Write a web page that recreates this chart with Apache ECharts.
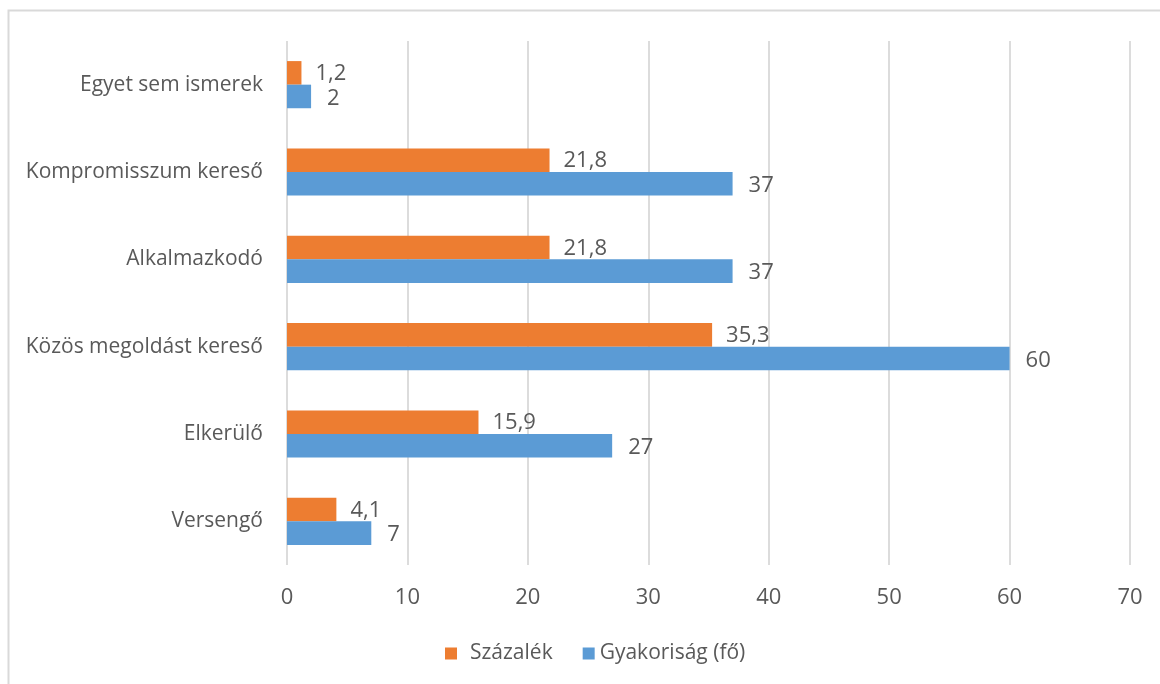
<!DOCTYPE html>
<html>
<head>
<meta charset="utf-8">
<style>
  html, body { margin: 0; padding: 0; background: #fff; }
  #chart { width: 1160px; height: 684px; }
</style>
<script src="https://cdn.jsdelivr.net/npm/echarts@6/dist/echarts.min.js"></script>
</head>
<body>
<div id="chart"></div>
<script>
// Conflict-handling styles, listed bottom to top along the category axis
const categories = ['Versengő', 'Elkerülő', 'Közös megoldást kereső', 'Alkalmazkodó', 'Kompromisszum kereső', 'Egyet sem ismerek'];
const szazalek = [4.1, 15.9, 35.3, 21.8, 21.8, 1.2];
const gyakorisag = [7, 27, 60, 37, 37, 2];
const xTicks = { min: 0, max: 70, interval: 10 };

const FONT = '"Open Sans", sans-serif';
const TEXT = '#595959';
const FS_CAT = 21;   // category names and legend
const FS_NUM = 22;   // numbers: ticks and value labels

const fmt = v => String(v).replace('.', ',');

const chart = echarts.init(document.getElementById('chart'));
chart.setOption({
  animation: false,
  backgroundColor: '#fff',
  textStyle: { fontFamily: FONT },
  graphic: [{
    type: 'rect',
    shape: { x: 8.5, y: 10.5, width: 1200, height: 720 },
    style: { fill: 'none', stroke: '#d9d9d9', lineWidth: 2 },
    silent: true
  }],
  grid: { left: 287, right: 30, top: 41, bottom: 119, containLabel: false },
  legend: {
    top: 638,
    left: 440,
    icon: 'rect',
    itemWidth: 12,
    itemHeight: 12,
    itemGap: 30,
    textStyle: {
      color: TEXT, fontSize: FS_CAT, fontFamily: FONT,
      rich: { pad: { color: TEXT, fontSize: FS_CAT, fontFamily: FONT, padding: [0, 0, 0, 8] } }
    },
    formatter: name => name === 'Százalék' ? '{pad|' + name + '}' : name,
    data: ['Százalék', 'Gyakoriság (fő)']
  },
  xAxis: {
    type: 'value',
    min: xTicks.min,
    max: xTicks.max,
    interval: xTicks.interval,
    axisLine: { show: false },
    axisTick: { show: false },
    axisLabel: { color: TEXT, fontSize: FS_NUM, margin: 22, fontFamily: FONT },
    splitLine: { show: true, lineStyle: { color: '#dcdcdc', width: 2 } }
  },
  yAxis: {
    type: 'category',
    data: categories,
    axisLine: { show: false },
    axisTick: { show: false },
    axisLabel: { color: TEXT, fontSize: FS_CAT, margin: 24, fontFamily: FONT },
    splitLine: { show: false }
  },
  series: [
    {
      name: 'Százalék',
      type: 'bar',
      data: szazalek,
      itemStyle: { color: '#ED7D31' },
      barGap: '0%',
      barCategoryGap: '46%',
      label: {
        show: true, position: 'right', distance: 14, offset: [0, 1],
        color: TEXT, fontSize: FS_NUM, fontFamily: FONT,
        formatter: p => fmt(p.value)
      }
    },
    {
      name: 'Gyakoriság (fő)',
      type: 'bar',
      data: gyakorisag,
      itemStyle: { color: '#5B9BD5' },
      barGap: '0%',
      barCategoryGap: '46%',
      label: {
        show: true, position: 'right', distance: 16, offset: [0, 2],
        color: TEXT, fontSize: FS_NUM, fontFamily: FONT,
        formatter: p => fmt(p.value)
      }
    }
  ]
});
</script>
</body>
</html>
